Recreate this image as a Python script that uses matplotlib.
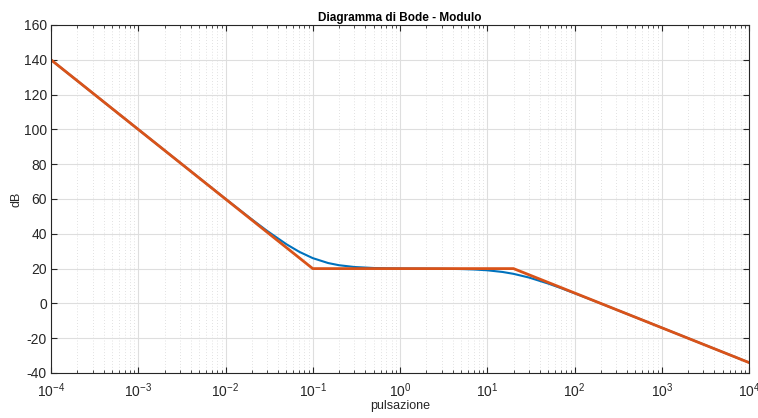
import numpy as np
from matplotlib import pyplot as plt
from matplotlib.ticker import LogLocator, NullFormatter

# modulo reale
w = [1e-4, 1e-3, 1e-2, 0.02, 0.03, 0.05, 0.07, 0.1, 0.15, 0.2, 0.3, 0.5, 0.7,
     1, 2, 3, 5, 7, 10, 15, 20, 30, 50, 70, 100, 200, 1e3, 1e4]
mod = [140, 100, 60.09, 48.3, 41.67, 33.98, 29.66, 26.02, 23.2, 21.94, 20.92, 20.34, 20.17,
       20.08, 19.98, 19.91, 19.74, 19.5, 19.03, 18.06, 16.99, 14.88, 11.40, 8.78, 5.85, -0.04, -13.98, -33.98]

# asintoti
w_as = [1e-4, 0.1, 20, 1e4]
mod_as = [140, 20, 20, -34]

plt.rcParams['font.family'] = ['Liberation Sans', 'DejaVu Sans']
plt.rcParams['axes.unicode_minus'] = False
fig = plt.figure(figsize=(7.58, 4.18), dpi=100)
ax = fig.add_axes([51/758, 1-373/418, (749-51)/758, (373-25)/418])

ax.semilogx(w, mod, c='#0072BD', lw=1.5)
ax.semilogx(w_as, mod_as, c='#D95319', lw=2.0)

ax.set_xlim(1e-4, 1e4)
ax.set_ylim(-40, 160)
ax.set_yticks(np.arange(-40, 161, 20))
ax.xaxis.set_major_locator(LogLocator(base=10, numticks=20))
ax.xaxis.set_minor_locator(LogLocator(base=10, subs=np.arange(2, 10), numticks=20))
ax.xaxis.set_minor_formatter(NullFormatter())

ax.grid(True, which='major', color='#dedede', lw=0.8)
ax.grid(True, which='minor', axis='x', color='#d8d8d8', lw=0.6, linestyle=(0, (1, 2.5)))
ax.set_axisbelow(True)

ax.tick_params(which='both', direction='in', top=True, right=True, labelsize=10, colors='#262626', pad=3)
ax.tick_params(axis='x', which='major', pad=6)
ax.tick_params(which='major', length=4)
ax.tick_params(which='minor', length=2.5)
for s in ax.spines.values():
    s.set_color('#262626')
    s.set_linewidth(0.8)

ax.set_title('Diagramma di Bode - Modulo', fontsize=8.5, fontweight='bold', pad=3)
ax.set_xlabel('pulsazione', fontsize=9, color='#262626', labelpad=0)
ax.set_ylabel('dB', fontsize=9, color='#262626', labelpad=1)

plt.savefig('out.png', dpi=100)
